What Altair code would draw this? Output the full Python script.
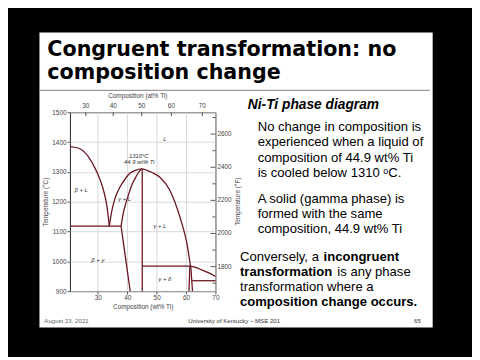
import altair as alt
import pandas as pd

# ---------------- data ----------------
# phase boundary curves: wt% Ti and temperature (°C)
liq_beta_wt = [20.5, 23.3, 26.7, 29.4, 31.7, 33.0, 33.9]
liq_beta_T  = [1385, 1380, 1352, 1305, 1246, 1190, 1118]

dome_wt = [33.9, 34.7, 35.7, 37.05, 38.4, 39.7, 41.0, 42.7, 44.9, 46.75, 48.4, 51.1, 54.4, 57.1, 58.8, 60.3, 61.5]
dome_T  = [1118, 1167, 1207, 1240, 1263, 1282, 1296, 1305, 1310, 1305, 1298, 1282, 1240, 1174, 1120, 1060, 984]

sol_gamma_wt = [37.9, 38.7, 39.4, 40.4, 41.7, 43.1, 44.1, 44.9]
sol_gamma_T  = [1118, 1164, 1190, 1223, 1259, 1286, 1302, 1310]

liq_delta_wt = [61.5, 63.5, 65.2, 67.6, 70.0]
liq_delta_T  = [984, 979, 972, 962, 949]

straight_lines = {
    "eutectic":    ([20.5, 37.9], [1118, 1118]),
    "beta_gamma":  ([37.9, 41.0], [1118, 900]),
    "gamma_right": ([45.1, 45.1], [1310, 900]),
    "peritectic":  ([45.1, 61.5], [984, 984]),
    "delta_left":  ([61.3, 61.0], [984, 900]),
    "delta_right": ([61.6, 62.2], [984, 900]),
    "eutectoid":   ([62.1, 70.0], [935, 935]),
}

region_labels = ["L", "1310°C", "44.9 wt% Ti", "β + L", "γ + L", "γ + L", "β + γ", "γ + δ"]
region_wt     = [52.8, 43.9, 44.1, 24.3, 39.1, 51.1, 30.0, 52.8]
region_T      = [1411, 1352, 1332, 1240, 1210, 1118, 1005, 940]

wt_ticks = [30, 40, 50, 60, 70]
degC_ticks = [900, 1000, 1100, 1200, 1300, 1400, 1500]
at_ticks = [30, 40, 50, 60, 70]
degF_major = [1800, 2000, 2200, 2400, 2600]
degF_minor = [1700, 1900, 2100, 2300, 2500, 2700]

M_TI, M_NI = 47.87, 58.69

LINE = "#6b1521"
XS = alt.Scale(domain=[20.5, 70], nice=False, zero=False)
YS = alt.Scale(domain=[900, 1500], nice=False, zero=False)
PW, PH = 148, 182

# ---------------- build tables ----------------
rows = []
def add_curve(name, xs, ys, smooth):
    for i, (a, b) in enumerate(zip(xs, ys)):
        rows.append({"curve": name, "i": i, "wt": a, "T": b, "smooth": smooth})

add_curve("liq_beta", liq_beta_wt, liq_beta_T, 1)
add_curve("dome", dome_wt, dome_T, 1)
add_curve("sol_gamma", sol_gamma_wt, sol_gamma_T, 1)
add_curve("liq_delta", liq_delta_wt, liq_delta_T, 1)
for k, (xs, ys) in straight_lines.items():
    add_curve(k, xs, ys, 0)
curves = pd.DataFrame(rows)

def at_to_wt(a):
    return 100 * a * M_TI / (a * M_TI + (100 - a) * M_NI)

top_df = pd.DataFrame({"at": at_ticks, "wt": [at_to_wt(a) for a in at_ticks]})
f_to_c = lambda f: (f - 32) * 5 / 9
fmaj_df = pd.DataFrame({"F": degF_major, "T": [f_to_c(f) for f in degF_major]})
fmin_df = pd.DataFrame({"F": degF_minor, "T": [f_to_c(f) for f in degF_minor]})
lab_df = pd.DataFrame({"label": region_labels, "wt": region_wt, "T": region_T})

# ---------------- diagram layers ----------------
axis_style = dict(labelFontSize=6.5, labelColor="#444", labelFont="Liberation Sans",
                  titleFontSize=6.5, titleColor="#444", titleFont="Liberation Sans",
                  titleFontWeight="normal", gridColor="#cfcfcf", gridWidth=0.8,
                  tickSize=3, tickColor="#555", domain=False, labelPadding=1,
                  labelOverlap=False, format="d", labelFlush=False)

XA = alt.Axis(values=wt_ticks, title="Composition (wt% Ti)", titlePadding=2, **axis_style)
YA = alt.Axis(values=degC_ticks, title="Temperature (°C)", titlePadding=3, **axis_style)

def X(field="wt:Q"):
    return alt.X(field, scale=XS, axis=XA)

def Y(field="T:Q"):
    return alt.Y(field, scale=YS, axis=YA)

smooth_lines = alt.Chart(curves[curves.smooth == 1]).mark_line(
    color=LINE, strokeWidth=1.3, interpolate="monotone").encode(
    x=X(), y=Y(), detail="curve:N", order="i:Q")

straight = alt.Chart(curves[curves.smooth == 0]).mark_line(
    color=LINE, strokeWidth=1.3).encode(
    x=X(), y=Y(), detail="curve:N", order="i:Q")

labels = alt.Chart(lab_df).mark_text(fontSize=6, font="Liberation Sans", fontStyle="italic",
                                      color="#333").encode(
    x=X(), y=Y(), text="label:N")

top_ticks = alt.Chart(top_df).mark_rule(color="#555").encode(
    x=X(), y=alt.value(0), y2=alt.value(4))
top_labels = alt.Chart(top_df).mark_text(fontSize=6.5, font="Liberation Sans", color="#444",
                                          baseline="bottom").encode(
    x=X(), y=alt.value(-3), text="at:N")

fmaj_ticks = alt.Chart(fmaj_df).mark_rule(color="#555").encode(
    y=Y(), x=alt.value(PW - 5), x2=alt.value(PW))
fmin_ticks = alt.Chart(fmin_df).mark_rule(color="#555").encode(
    y=Y(), x=alt.value(PW - 3), x2=alt.value(PW))
fmaj_labels = alt.Chart(fmaj_df).mark_text(fontSize=6.5, font="Liberation Sans", color="#444",
                                            align="left", baseline="middle").encode(
    y=Y(), x=alt.value(PW + 2), text="F:N")

# ---------------- slide decoration ----------------
def band(x1, x2, y1, y2, color):
    return alt.Chart(pd.DataFrame({"k": [0]})).mark_rect(color=color).encode(
        x=alt.value(x1), x2=alt.value(x2), y=alt.value(y1), y2=alt.value(y2))

def txt(s, x, y, size, weight="normal", style="normal", font="Liberation Sans",
        color="black", align="left", angle=0, baseline="alphabetic"):
    return alt.Chart(pd.DataFrame({"t": [s]})).mark_text(
        fontSize=size, fontWeight=weight, fontStyle=style, font=font, color=color,
        align=align, angle=angle, baseline=baseline).encode(
        x=alt.value(x), y=alt.value(y), text="t:N")

title_lines = ["Congruent transformation: no", "composition change"]
heading = "Ni-Ti phase diagram"
para1 = ["No change in composition is", "experienced when a liquid of",
         "composition of 44.9 wt% Ti", "is cooled below 1310 \u1d52C."]
para2 = ["A solid (gamma phase) is", "formed with the same", "composition, 44.9 wt% Ti"]
para3 = [[("Conversely, a ", "normal", 0), ("incongruent", "bold", 85)],
         [("transformation", "bold", 0), ("is any phase", "normal", 99)],
         [("transformation where a", "normal", 0)],
         [("composition change occurs.", "bold", 0)]]
footer_mid = "University of Kentucky \u2013 MSE 201"
footer_date = "August 23, 2021"
page_no = "65"

layers = [
    band(-71, 409, -111, -81, "black"),
    band(-71, 409, 219, 249, "black"),
    band(-71, -31, -111, 249, "black"),
    band(369, 409, -111, 249, "black"),
    band(-31, 366, -23, -21.5, "#9a9a9a"),
    smooth_lines, straight, labels, top_ticks, top_labels,
    fmaj_ticks, fmin_ticks, fmaj_labels,
    txt("Composition (at% Ti)", 69, -14, 6.5, color="#444", align="center"),
    txt("Temperature (°F)", 173, 91, 6.5, color="#444", align="center", angle=270),
    txt(title_lines[0], -23, -57, 21, weight="bold", font="DejaVu Sans"),
    txt(title_lines[1], -23, -34, 21, weight="bold", font="DejaVu Sans"),
    txt(heading, 181, -3, 14, weight="bold", style="italic"),
]
for i, s in enumerate(para1):
    layers.append(txt(s, 191, 19 + i * 15.7, 13.3))
for i, s in enumerate(para2):
    layers.append(txt(s, 191, 92 + i * 15.5, 13.3))
for i, runs in enumerate(para3):
    for s, w, dx in runs:
        layers.append(txt(s, 173 + dx, 151 + i * 15.5, 13.3, weight=w))
layers += [
    txt(footer_mid, 167, 214, 6.2, color="#333", align="center"),
    txt(footer_date, -26, 214, 6.2, color="#666"),
    txt(page_no, 357, 214, 6.2, color="#333", align="right"),
]

chart = alt.layer(*layers).properties(
    width=PW, height=PH, background="white",
    autosize=alt.AutoSizeParams(type="none"),
    padding={"left": 63, "top": 103, "right": 261, "bottom": 67},
).configure_view(stroke="#222", strokeWidth=1)

chart.save("out.html", embed_options={"renderer": "svg", "actions": False})
